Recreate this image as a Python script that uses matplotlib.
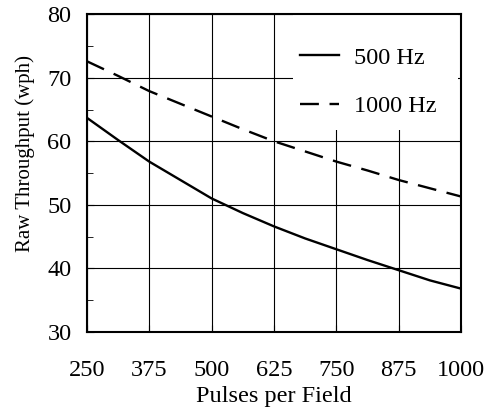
import matplotlib
matplotlib.use('Agg')
import matplotlib.pyplot as plt
from matplotlib.patches import Rectangle
from matplotlib.ticker import MultipleLocator

# values
pulses = [250, 312.5, 375, 437.5, 500, 562.5, 625, 687.5, 750, 812.5, 875, 937.5, 1000]
wph_500 = [63.7, 60.2, 56.8, 53.9, 51.0, 48.7, 46.6, 44.7, 43.0, 41.3, 39.7, 38.1, 36.8]
wph_1000 = [72.6, 70.3, 67.9, 65.9, 63.9, 61.9, 60.0, 58.4, 56.8, 55.4, 53.9, 52.6, 51.3]
x_ticks = [250, 375, 500, 625, 750, 875, 1000]
y_ticks = [30, 40, 50, 60, 70, 80]

plt.rcParams['font.family'] = ['Liberation Serif', 'DejaVu Serif']

fig = plt.figure(figsize=(4.88, 4.19), dpi=100)
ax = fig.add_axes([0.178, 0.208, 0.767, 0.758])

ax.plot(pulses, wph_500, color='black', lw=1.7, label='500 Hz', zorder=3)
ax.plot(pulses, wph_1000, color='black', lw=1.7, ls=(0, (8, 4.5)), label='1000 Hz', zorder=3)

ax.set_xlim(250, 1000)
ax.set_ylim(30, 80)
ax.set_xticks(x_ticks)
ax.set_yticks(y_ticks)
ax.yaxis.set_minor_locator(MultipleLocator(5))
ax.grid(True, which='major', color='black', lw=0.8, zorder=1)
ax.tick_params(which='both', direction='in', labelsize=17.5, color='black')
ax.tick_params(which='major', length=5)
ax.tick_params(which='minor', length=4)
ax.tick_params(axis='x', pad=20)
ax.tick_params(axis='y', pad=11)
for s in ax.spines.values():
    s.set_linewidth(1.5)

ax.set_xlabel('Pulses per Field', fontsize=17.5)
ax.xaxis.set_label_coords(0.5, -0.172)
ax.set_ylabel('Raw Throughput (wph)', fontsize=15)
ax.yaxis.set_label_coords(-0.138, 0.56)

# white patch behind the legend, hiding the grid
ax.add_patch(Rectangle((0.551, 0.635), 0.44, 0.362, transform=ax.transAxes,
                       facecolor='white', edgecolor='none', zorder=2))

ax.legend(loc='upper left', bbox_to_anchor=(0.57, 0.898), fontsize=17.5,
          frameon=False, handlelength=1.6, borderpad=0, borderaxespad=0,
          labelspacing=1.1, handletextpad=0.6)

fig.savefig('out.png', dpi=100)
